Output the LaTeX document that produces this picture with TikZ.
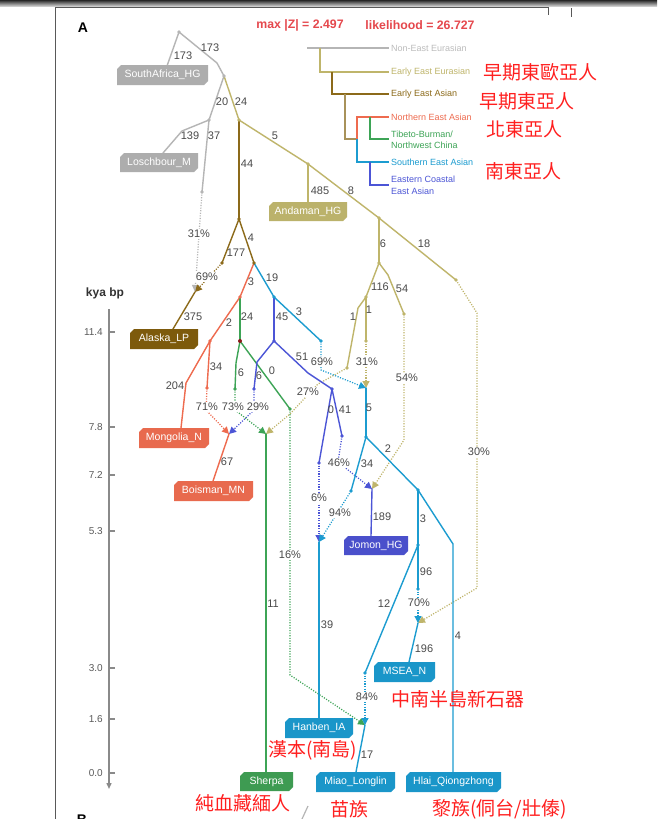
\documentclass[tikz,border=0pt]{standalone}
\usepackage{fontspec}
\setmainfont{Liberation Sans}
\newfontfamily\cjk{Noto Sans CJK TC}
\usetikzlibrary{arrows.meta,calc}
\definecolor{cgray}{HTML}{B5B5B5}
\definecolor{colive}{HTML}{BFB56B}
\definecolor{cbrown}{HTML}{8C6A1A}
\definecolor{ctan}{HTML}{A8925A}
\definecolor{csal}{HTML}{EE6B4F}
\definecolor{cgreen}{HTML}{3DA456}
\definecolor{cblue}{HTML}{1C9CD0}
\definecolor{cpurp}{HTML}{4C55D6}
\definecolor{clab}{HTML}{4A4A4A}
\definecolor{ctitle}{HTML}{E5484D}
\definecolor{ccjk}{HTML}{FF1F1F}
\definecolor{ctick}{HTML}{5A5A5A}
\definecolor{caxis}{HTML}{8A8A8A}
\definecolor{bgray}{HTML}{ADADAD}
\definecolor{bolive}{HTML}{BBB26B}
\definecolor{bbrown}{HTML}{7D5A0C}
\definecolor{bsal}{HTML}{E86A4E}
\definecolor{bgreen}{HTML}{3E9B52}
\definecolor{bblue}{HTML}{1A96C9}
\definecolor{bpurp}{HTML}{4A50CB}
\definecolor{darkred}{HTML}{8B1A1A}
\newcommand\labbox[7]{%
  \fill[#6] ({#2-#4/2+4},{#3-#5/2}) -- ({#2+#4/2},{#3-#5/2}) -- ({#2+#4/2},{#3+#5/2-4}) -- ({#2+#4/2-4},{#3+#5/2}) -- ({#2-#4/2},{#3+#5/2}) -- ({#2-#4/2},{#3-#5/2+4}) -- cycle;
  \node[boxtext, minimum width=#4pt, minimum height=#5pt] (#1) at (#2,#3) {#7};
}
\tikzset{
 e/.style={line width=1.4pt, line cap=round, line join=round},
 adm/.style={line width=1.25pt, dash pattern=on 1.1pt off 1.5pt, -{Triangle[length=7pt,width=7pt]}},
 lab/.style={text=clab, font=\fontsize{11}{13}\selectfont, inner sep=0.5pt},
 pct/.style={lab, fill=white, inner sep=0.7pt},
 boxtext/.style={text=white, font=\fontsize{10.5}{12}\selectfont, inner sep=0pt},
 leg/.style={anchor=west, font=\fontsize{9}{11.5}\selectfont, align=left, inner sep=0pt},
 legline/.style={line width=1.3pt},
 cjkred/.style={anchor=west, text=ccjk, font=\cjk\fontsize{19}{22}\selectfont, inner sep=0pt},
 tick/.style={anchor=east, text=ctick, font=\fontsize{10}{12}\selectfont, inner sep=0pt},
 axis/.style={draw=caxis, line width=1.4pt},
}
\begin{document}
\begin{tikzpicture}[x=1pt,y=-1pt]
\useasboundingbox (0,0) rectangle (657,819);
\fill[white] (0,0) rectangle (657,819);
% window chrome
\shade[top color=black!85, bottom color=black!20] (0,0) rectangle (657,6);
\draw[black!65, line width=1pt] (55,819) -- (55,7.5) -- (548,7.5) -- (548,15);
\draw[black!65, line width=1pt] (571,8) -- (571,17);

% titles
\node[text=ctitle, font=\bfseries\fontsize{12.3}{14}\selectfont, inner sep=0pt] (t1) at (300,25) {max |Z| = 2.497};
\node[text=ctitle, font=\bfseries\fontsize{12.3}{14}\selectfont, inner sep=0pt] (t2) at (420,25) {likelihood = 26.727};
\node[font=\bfseries\fontsize{14}{16}\selectfont, inner sep=0pt] (pa) at (83,28) {A};
\node[font=\bfseries\fontsize{14}{16}\selectfont, inner sep=0pt] (pb) at (82,820) {B};
\draw[cgray, line width=1.2pt] (308,806) -- (302,819);

% legend
\draw[legline, cgray] (307,48) -- (389,48);
\draw[legline, colive] (320,48) -- (320,72) -- (389,72);
\draw[legline, cbrown] (332,72) -- (332,94) -- (389,94);
\draw[legline, ctan] (345,94) -- (345,139) -- (357,139);
\draw[legline, csal] (357,139) -- (357,117) -- (389,117);
\draw[legline, cgreen] (370,117) -- (370,139) -- (389,139);
\draw[legline, cblue] (357,139) -- (357,162) -- (389,162);
\draw[legline, cpurp] (370,162) -- (370,185) -- (389,185);
\node[leg, text=cgray!90] (lg1) at (391,48) {Non-East Eurasian};
\node[leg, text=colive] (lg2) at (391,72) {Early East Eurasian};
\node[leg, text=cbrown] (lg3) at (391,94) {Early East Asian};
\node[leg, text=csal] (lg4) at (391,117) {Northern East Asian};
\node[leg, text=cgreen] (lg5) at (391,140) {Tibeto-Burman/\\Northwest China};
\node[leg, text=cblue] (lg6) at (391,162) {Southern East Asian};
\node[leg, text=cpurp] (lg7) at (391,185.5) {Eastern Coastal\\East Asian};

% axis
\node[font=\bfseries\fontsize{12}{14}\selectfont, text=black!80, inner sep=0pt] (kya) at (105,293) {kya bp};
\coordinate (axT) at (109,309);
\coordinate (axB) at (109,789);
\draw[axis, -{Triangle[length=6pt,width=5pt]}] (axT) -- (axB);
\foreach \v/\y [count=\i] in {11.4/332, 7.8/427, 7.2/475, 5.3/531, 3.0/668, 1.6/719, 0.0/773} {
  \draw[axis, line width=1.2pt] (109,\y) -- (115,\y);
  \node[tick] (tk\i) at (103,\y) {\v};
}

% coordinates
\coordinate (gR) at (179,32);   \coordinate (gK) at (217,63);  \coordinate (gA) at (224,76);
\coordinate (gB) at (209,120);  \coordinate (gL1) at (182,131); \coordinate (gC) at (202,192);
\coordinate (saTop) at (167,66); \coordinate (loTop) at (163,153);
\coordinate (oA) at (239,120); \coordinate (oB) at (308,164); \coordinate (anTop) at (308,202);
\coordinate (oC) at (379,218); \coordinate (oD) at (379,263); \coordinate (oE) at (456,280);
\coordinate (oE1) at (477,313); \coordinate (oE2) at (477,588); \coordinate (oF) at (366,297);
\coordinate (oF1) at (358,308); \coordinate (oG) at (347,368); \coordinate (oH) at (366,341);
\coordinate (oI1) at (388,275); \coordinate (oI) at (404,314); \coordinate (oI2) at (404,440);
\coordinate (o27a) at (318,384); \coordinate (o27b) at (290,414);
\coordinate (bA) at (239,219); \coordinate (bB) at (222,263); \coordinate (bC) at (254,263);
\coordinate (jAl) at (195,292); \coordinate (alTop) at (173,329);
\coordinate (sA) at (240,297); \coordinate (sB) at (210,341); \coordinate (sB1) at (186,383);
\coordinate (moTop) at (181,428); \coordinate (sC) at (207,388); \coordinate (sC1) at (206,410);
\coordinate (jBo) at (229,434); \coordinate (boTop) at (213,481);
\coordinate (grA) at (240,341); \coordinate (grB1) at (236,363); \coordinate (grB) at (235,389);
\coordinate (grB2) at (235,410); \coordinate (grC) at (290,409); \coordinate (grC1) at (290,675);
\coordinate (jSh) at (266,434); \coordinate (shTop) at (266,772);
\coordinate (blA) at (274,297); \coordinate (blB) at (321,341); \coordinate (blB1) at (321,370);
\coordinate (jA1) at (366,388); \coordinate (blC) at (366,437); \coordinate (blD) at (351,491);
\coordinate (blE) at (418,490); \coordinate (jHa) at (319,542); \coordinate (haTop) at (319,718);
\coordinate (blF) at (418,545); \coordinate (blE1) at (453,544); \coordinate (hlTop) at (453,772);
\coordinate (blG) at (365,673); \coordinate (blH) at (418,589); \coordinate (jMS) at (418,623);
\coordinate (msTop) at (409,662); \coordinate (jMi) at (365,725); \coordinate (miTop) at (356,772);
\coordinate (pA) at (274,341); \coordinate (pA1) at (257,362); \coordinate (pB) at (254,389);
\coordinate (pB1) at (254,410); \coordinate (pC1) at (308,373); \coordinate (pC) at (332,389);
\coordinate (pD) at (319,463); \coordinate (pE) at (342,436); \coordinate (pE1) at (338,462);
\coordinate (jJo) at (372,489); \coordinate (joTop) at (371,536);

% admixture (dotted) edges
\draw[adm, cgray] (gC) -- (jAl);
\draw[adm, cbrown] (bB) -- (jAl);
\draw[adm, csal] (sC) -- (sC1) -- (jBo);
\draw[adm, cpurp] (pB) -- (pB1) -- (jBo);
\draw[adm, cpurp] (pD) -- (jHa);
\draw[adm, cpurp] (pE) -- (pE1) -- (jJo);
\draw[adm, cgreen] (grB) -- (grB2) -- (jSh);
\draw[adm, cgreen] (grC) -- (grC1) -- (jMi);
\draw[adm, colive] (oG) -- (o27a) -- (o27b) -- (jSh);
\draw[adm, colive] (oH) -- (jA1);
\draw[adm, colive] (oI) -- (oI2) -- (jJo);
\draw[adm, colive] (oE) -- (oE1) -- (oE2) -- (jMS);
\draw[adm, cblue] (blB) -- (blB1) -- (jA1);
\draw[adm, cblue] (blD) -- (jHa);
\draw[adm, cblue] (blH) -- (jMS);
\draw[adm, cblue] (blG) -- (jMi);

% solid edges
\draw[e, cgray] (gR) -- (saTop);
\draw[e, cgray] (gR) -- (gK) -- (gA);
\draw[e, cgray] (gA) -- (gB);
\draw[e, cgray] (gB) -- (gL1) -- (loTop);
\draw[e, cgray] (gB) -- (gC);
\draw[e, colive] (gA) -- (oA);
\draw[e, colive] (oA) -- (oB);
\draw[e, colive] (oB) -- (anTop);
\draw[e, colive] (oB) -- (oC);
\draw[e, colive] (oC) -- (oD);
\draw[e, colive] (oC) -- (oE);
\draw[e, colive] (oD) -- (oF);
\draw[e, colive] (oD) -- (oI1) -- (oI);
\draw[e, colive] (oF) -- (oF1) -- (oG);
\draw[e, colive] (oF) -- (oH);
\draw[e, cbrown] (oA) -- (bA);
\draw[e, cbrown] (bA) -- (bB);
\draw[e, cbrown] (bA) -- (bC);
\draw[e, cbrown] (jAl) -- (alTop);
\draw[e, csal] (bC) -- (sA);
\draw[e, csal] (sA) -- (sB);
\draw[e, csal] (sB) -- (sB1) -- (moTop);
\draw[e, csal] (sB) -- (sC);
\draw[e, csal] (jBo) -- (boTop);
\draw[e, cgreen] (sA) -- (grA);
\draw[e, cgreen] (grA) -- (grB1) -- (grB);
\draw[e, cgreen] (grA) -- (grC);
\draw[e, cgreen] (jSh) -- (shTop);
\draw[e, cblue] (bC) -- (blA);
\draw[e, cblue] (blA) -- (blB);
\draw[e, cblue] (jA1) -- (blC);
\draw[e, cblue] (blC) -- (blD);
\draw[e, cblue] (blC) -- (blE);
\draw[e, cblue] (jHa) -- (haTop);
\draw[e, cblue] (blE) -- (blF);
\draw[e, cblue] (blE) -- (blE1) -- (hlTop);
\draw[e, cblue] (blF) -- (blG);
\draw[e, cblue] (blF) -- (blH);
\draw[e, cblue] (jMS) -- (msTop);
\draw[e, cblue] (jMi) -- (miTop);
\draw[e, cpurp] (blA) -- (pA);
\draw[e, cpurp] (pA) -- (pA1) -- (pB);
\draw[e, cpurp] (pA) -- (pC1) -- (pC);
\draw[e, cpurp] (pC) -- (pD);
\draw[e, cpurp] (pC) -- (pE);
\draw[e, cpurp] (jJo) -- (joTop);

% dots
\foreach \c/\p in {cgray/gR, cgray/gA, cgray/gB, cgray/gC, colive/oA, colive/oB, colive/oC, colive/oD, colive/oE, colive/oF, colive/oG, colive/oH, colive/oI, cbrown/bA, cbrown/bB, cbrown/bC, csal/sA, csal/sB, csal/sC, cgreen/grB, cgreen/grC, cblue/blA, cblue/blB, cblue/blC, cblue/blD, cblue/blE, cblue/blF, cblue/blG, cblue/blH, cpurp/pA, cpurp/pB, cpurp/pC, cpurp/pD, cpurp/pE}
  \fill[\c] (\p) circle (1.9);
\fill[darkred] (grA) circle (2);

% label boxes
\labbox{sa}{162.5}{75}{91}{20}{bgray}{SouthAfrica\_HG}
\labbox{lo}{159}{162.5}{78}{19}{bgray}{Loschbour\_M}
\labbox{an}{308}{211.5}{78}{19}{bolive}{Andaman\_HG}
\labbox{al}{164}{339}{68}{20}{bbrown}{Alaska\_LP}
\labbox{mo}{174}{438}{70}{20}{bsal}{Mongolia\_N}
\labbox{bo}{213.5}{491}{79}{20}{bsal}{Boisman\_MN}
\labbox{jo}{376}{545.5}{64}{19}{bpurp}{Jomon\_HG}
\labbox{ms}{404.5}{672}{61}{20}{bblue}{MSEA\_N}
\labbox{ha}{319}{728}{68}{20}{bblue}{Hanben\_IA}
\labbox{sh}{266.5}{781.5}{53}{19}{bgreen}{Sherpa}
\labbox{mi}{355.5}{782}{79}{20}{bblue}{Miao\_Longlin}
\labbox{hl}{453.5}{782}{95}{20}{bblue}{Hlai\_Qiongzhong}

% edge weights
\foreach \x/\y/\t [count=\i] in {183/56/173, 210/48/173, 222/102/20, 241/102/24, 190/136/139, 214/136/37, 275/136/5, 247/164/44, 320/191/485, 351/191/8, 251/238/4, 236/253/177, 251/282/3, 272/278/19, 193/317/375, 229/323/2, 247/317/24, 282/317/45, 299/312/3, 383/244/6, 424/244/18, 380/287/116, 402/289/54, 353/317/1, 369/310/1, 216/367/34, 175/386/204, 241/373/6, 272/371/0, 259/376/6, 302/357/51, 331/410/0, 345/410/41, 369/408/5, 388/449/2, 227/462/67, 367/464/34, 382/517/189, 423/519/3, 426/572/96, 384/604/12, 273/604/11, 327/625/39, 458/636/4, 424/649/196, 367/755/17}
  \node[lab] (w\i) at (\x,\y) {\t};

% admixture percentages
\foreach \x/\y/\t [count=\i] in {199/234/31, 207/277/69, 322/362/69, 367/362/31, 308/392/27, 407/378/54, 207/407/71, 233/407/73, 258/407/29, 479/452/30, 339/463/46, 319/498/6, 340/513/94, 290/555/16, 419/603/70, 367/697/84}
  \node[pct] (q\i) at (\x,\y) {\t\%};

% Chinese annotations
\node[cjkred] (c1) at (483,72) {早期東歐亞人};
\node[cjkred] (c2) at (479,101) {早期東亞人};
\node[cjkred] (c3) at (486,129) {北東亞人};
\node[cjkred] (c4) at (485,171) {南東亞人};
\node[cjkred] (c5) at (391,699) {中南半島新石器};
\node[cjkred] (c6) at (268,750) {漢本(南島)};
\node[cjkred] (c7) at (195,803) {純血藏緬人};
\node[cjkred] (c8) at (330,809) {苗族};
\node[cjkred] (c9) at (432,809) {黎族(侗台/壯傣)};
\end{tikzpicture}
\end{document}
